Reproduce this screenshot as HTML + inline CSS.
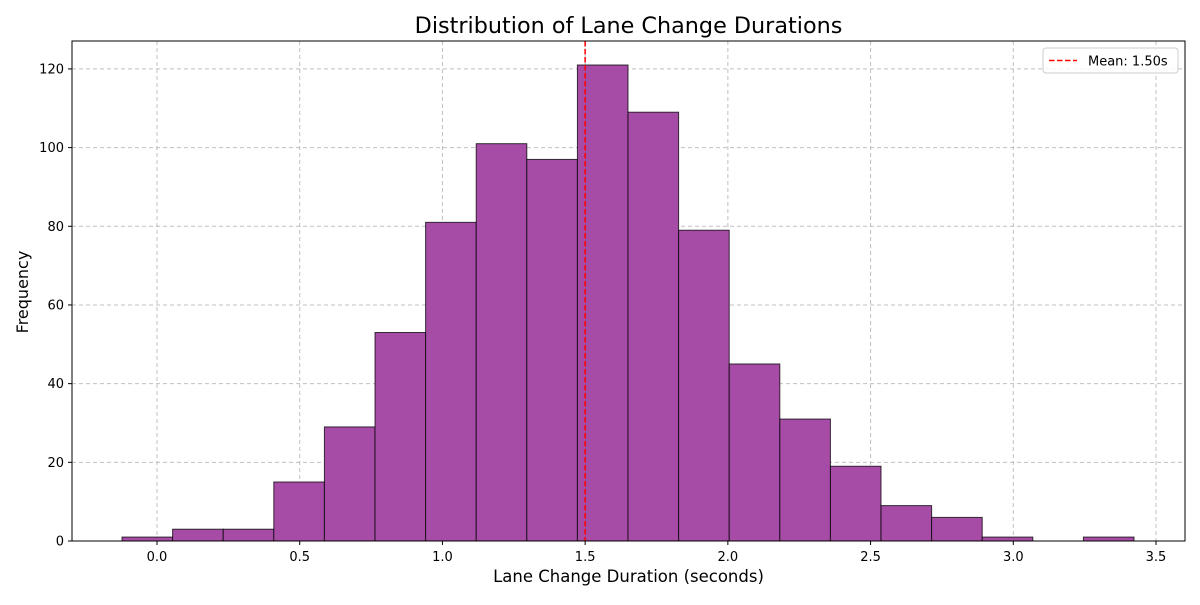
<!DOCTYPE html>
<html><head><meta charset="utf-8"><style>
body{margin:0;background:#fff;font-family:"Liberation Sans","DejaVu Sans",sans-serif}
svg text{font-family:"DejaVu Sans","Liberation Sans",sans-serif}
</style></head><body>
<svg id="chart" width="1200" height="600">
<rect width="1200" height="600" fill="#fff"/>
<g id="grid"></g><g id="bars"></g><g id="axes"></g>
</svg>
<script>
const binStart = -0.1226;
const binEnd = 3.423;
const counts = [1,3,3,15,29,53,81,101,97,121,109,79,45,31,19,9,6,1,0,1];
const xTicks = [0.0,0.5,1.0,1.5,2.0,2.5,3.0,3.5];
const yTicks = [0,20,40,60,80,100,120];
const meanValue = 1.50;

const L=72,R=1185,T=41,B=541;
const xMin=-0.2978,xMax=3.6016,yMax=127.1;
const X=v=>L+(v-xMin)/(xMax-xMin)*(R-L);
const Y=v=>B-v/yMax*(B-T);
const NS='http://www.w3.org/2000/svg';
function mk(tag,attrs,parent,txt){const e=document.createElementNS(NS,tag);for(const k in attrs)e.setAttribute(k,attrs[k]);if(txt!==undefined)e.textContent=txt;parent.appendChild(e);return e;}
const svg=document.getElementById('chart'),grid=document.getElementById('grid'),bars=document.getElementById('bars'),axes=document.getElementById('axes');

xTicks.forEach(t=>{
 const gl=mk('line',{x1:X(t),x2:X(t),y1:T,y2:B,stroke:'#b0b0b0','stroke-width':1,'stroke-dasharray':'4,3','stroke-opacity':0.8},grid);
 
 
 const tk=mk('line',{x1:X(t),x2:X(t),y1:B,y2:B+4,stroke:'#000'},axes);
 
 
 const lb=mk('text',{x:X(t),y:B+20,'text-anchor':'middle','font-size':13},axes,t.toFixed(1));
 
 
});
yTicks.forEach(t=>{
 const gl=mk('line',{x1:L,x2:R,y1:Y(t),y2:Y(t),stroke:'#b0b0b0','stroke-width':1,'stroke-dasharray':'4,3','stroke-opacity':0.8},grid);
 
 
 const tk=mk('line',{x1:L-4,x2:L,y1:Y(t),y2:Y(t),stroke:'#000'},axes);
 
 
 const lb=mk('text',{x:L-8,y:Y(t)+4.5,'text-anchor':'end','font-size':13},axes,String(t));
 
 
});
const w=(binEnd-binStart)/counts.length;
counts.forEach((c,i)=>{
 if(c<=0)return;
 const x0=X(binStart+i*w),x1=X(binStart+(i+1)*w);
 const r=mk('rect',{x:x0,y:Y(c),width:x1-x0,height:Y(0)-Y(c),fill:'rgb(166,76,166)',stroke:'rgba(0,0,0,0.75)','stroke-width':1},bars);
 
 
});
const ml=mk('line',{x1:X(meanValue),x2:X(meanValue),y1:T,y2:B,stroke:'#ff0000','stroke-width':1.5,'stroke-dasharray':'5.5,2.5'},axes);


const fr=mk('rect',{x:L,y:T,width:R-L,height:B-T,fill:'none',stroke:'#000','stroke-width':1},axes);


const ti=mk('text',{x:(L+R)/2,y:33,'text-anchor':'middle','font-size':22.3},axes,'Distribution of Lane Change Durations');


const xt=mk('text',{x:(L+R)/2,y:582,'text-anchor':'middle','font-size':16.5},axes,'Lane Change Duration (seconds)');


const yt=mk('text',{x:0,y:0,'text-anchor':'middle','font-size':16,transform:'translate(28,292) rotate(-90)'},axes,'Frequency');


const lg=mk('g',{},axes);


mk('rect',{x:1043,y:48,width:135,height:25,rx:3,fill:'#fff','fill-opacity':0.8,stroke:'#ccc'},lg);
mk('line',{x1:1049,x2:1077,y1:60.5,y2:60.5,stroke:'#ff0000','stroke-width':1.5,'stroke-dasharray':'5.5,2.5'},lg);
const lt=mk('text',{x:1088,y:65.5,'font-size':13},lg,'Mean: 1.50s');


</script>
</body></html>
